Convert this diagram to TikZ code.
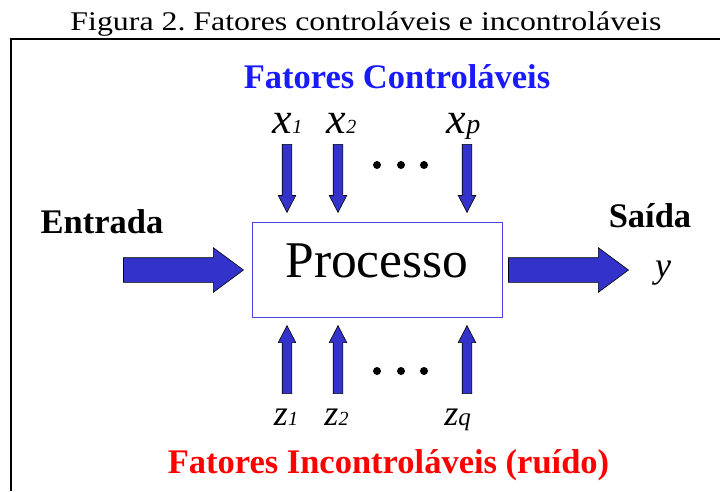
\documentclass[tikz,border=0pt]{standalone}
\usepackage{fontspec}
\setmainfont{Liberation Serif}
\usetikzlibrary{shapes.arrows}

\definecolor{arrowblue}{RGB}{51,51,204}
\definecolor{boxblue}{RGB}{70,70,220}
\definecolor{titleblue}{RGB}{26,26,255}

\tikzset{
	blockarrow/.style={single arrow, draw=black, fill=arrowblue, line width=0.6pt, inner xsep=0pt, anchor=tip},
	bigarrow/.style={blockarrow, minimum height=120pt, inner ysep=12pt, single arrow head extend=10pt, single arrow tip angle=73},
	smallarrow/.style={blockarrow, minimum height=68pt, inner ysep=4.5pt, single arrow head extend=4pt, single arrow tip angle=55},
	heading/.style={font=\fontsize{34.5}{38}\selectfont\bfseries, anchor=base, inner sep=0pt},
	varlabel/.style={anchor=base, inner sep=0pt}
}

\newcommand{\xvar}[2]{{\fontsize{44}{44}\selectfont\itshape x}{\fontsize{#2}{#2}\selectfont\itshape #1}}
\newcommand{\zvar}[2]{{\fontsize{36}{36}\selectfont\itshape z}{\fontsize{#2}{#2}\selectfont\itshape #1}}

\frenchspacing

\begin{document}
\begin{tikzpicture}[x=1pt,y=-1pt]
	\useasboundingbox (0,0) rectangle (720,491);

	%Title
	\node[anchor=base, inner sep=0pt, xscale=1.18, font=\fontsize{27}{30}\selectfont] (title) at (366,30) {Figura 2. Fatores controláveis e incontroláveis};

	%Frame
	\draw[line width=2pt, draw=black] (11,491) -- (11,39) -- (720,39);

	%Process
	\node[draw=boxblue, line width=0.8pt, minimum width=250pt, minimum height=95pt, inner sep=0pt, text height=34pt, text depth=18pt, font=\fontsize{51.5}{56}\selectfont] (proc) at (377,269.5) {Processo};

	%Input / output
	\node[heading] (input) at (102,233) {Entrada};
	\node[bigarrow] (inarrow) at (244,270) {};
	\node[heading] (output) at (650,227) {Saída};
	\node[bigarrow] (outarrow) at (629,270) {};
	\node[varlabel, font=\fontsize{36}{36}\selectfont\itshape] (yout) at (663,277) {y};

	%Controllable factors
	\node[heading, text=titleblue] (ctrl) at (397,88) {Fatores Controláveis};
	\node[varlabel] (lx1) at (287.5,133) {\xvar{1}{20}};
	\node[varlabel] (lx2) at (341.5,133) {\xvar{2}{20}};
	\node[varlabel] (lxp) at (463.5,133) {\xvar{p}{28}};
	\node[smallarrow, rotate=-90] (ax1) at (287,213) {};
	\node[smallarrow, rotate=-90] (ax2) at (338,213) {};
	\node[smallarrow, rotate=-90] (axp) at (467,213) {};

	%Uncontrollable factors
	\node[smallarrow, rotate=90] (az1) at (287,325) {};
	\node[smallarrow, rotate=90] (az2) at (338,325) {};
	\node[smallarrow, rotate=90] (azq) at (467,325) {};
	\node[varlabel] (lz1) at (286,425) {\zvar{1}{20}};
	\node[varlabel] (lz2) at (336.5,425) {\zvar{2}{20}};
	\node[varlabel] (lzq) at (457.5,425) {\zvar{q}{25}};
	\node[heading, text=red] (noise) at (388.5,473) {Fatores Incontroláveis (ruído)};

	%Dots
	\foreach \dx in {377,401,424} {
		\fill (\dx,165) circle (4pt);
		\fill (\dx,371) circle (4pt);
	}

\end{tikzpicture}
\end{document}
